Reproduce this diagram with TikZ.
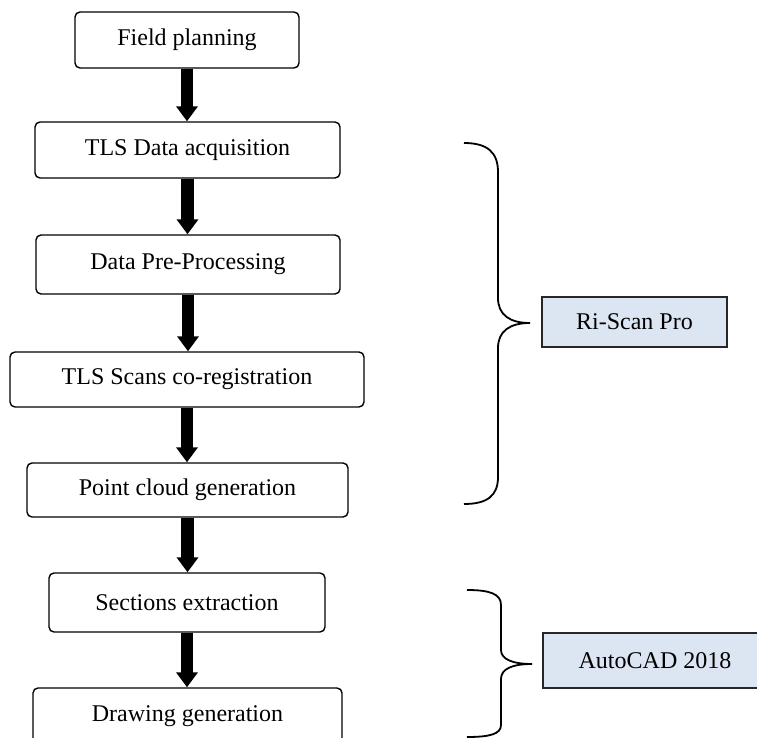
\documentclass[tikz,border=0pt]{standalone}
\usepackage{fontspec}
\setmainfont{Liberation Serif}
\usetikzlibrary{arrows.meta}
\definecolor{toolblue}{HTML}{DCE6F2}

\begin{document}
\begin{tikzpicture}[x=.5pt,y=-.5pt,
	stagebox/.style={draw, rounded corners=2.5pt, line width=.7pt, inner sep=0pt, font=\fontsize{12}{14}\selectfont},
	toolbox/.style={draw=black!85, fill=toolblue, line width=.75pt, inner sep=0pt, font=\fontsize{12}{14}\selectfont},
	fatarrow/.style={line width=6.3pt, -{Triangle[width=10.5pt,length=7.5pt]}},
	bracket/.style={line width=.9pt}]
	\useasboundingbox (0,0) rectangle (757,738);
	
	% processing chain
	\node[stagebox, minimum width=112pt, minimum height=28pt] (plan) at (187,40) {Field planning};
	\node[stagebox, minimum width=152.5pt, minimum height=28pt] (acq) at (187.5,150) {TLS Data acquisition};
	\node[stagebox, minimum width=152pt, minimum height=29.5pt] (pre) at (188,264.5) {Data Pre-Processing};
	\node[stagebox, minimum width=177pt, minimum height=27.5pt] (reg) at (187,379.5) {TLS Scans co-registration};
	\node[stagebox, minimum width=160.5pt, minimum height=27pt] (cloud) at (187.5,490) {Point cloud generation};
	\node[stagebox, minimum width=138pt, minimum height=29.5pt] (sect) at (187,602.5) {Sections extraction};
	\node[stagebox, minimum width=154.5pt, minimum height=28pt] (drw) at (187.5,716) {Drawing generation};
	
	\draw[fatarrow] (plan.south) -- (plan.south |- acq.north);
	\draw[fatarrow] (acq.south) -- (acq.south |- pre.north);
	\draw[fatarrow] (pre.south) -- (pre.south |- reg.north);
	\draw[fatarrow] (reg.south) -- (reg.south |- cloud.north);
	\draw[fatarrow] (cloud.south) -- (cloud.south |- sect.north);
	\draw[fatarrow] (sect.south) -- (sect.south |- drw.north);
	
	% software
	\node[toolbox, minimum width=92.5pt, minimum height=25pt] (riscan) at (634.5,322) {Ri-Scan Pro};
	\node[toolbox, minimum width=112pt, minimum height=27.5pt] (acad) at (655,660.5) {AutoCAD 2018};
	
	\draw[bracket] (464,143) .. controls (487,143) and (498,152) .. (498,172)
		-- (498,298) .. controls (498,315) and (510,323) .. (530,323)
		.. controls (510,323) and (498,331) .. (498,348)
		-- (498,477) .. controls (498,496) and (487,504) .. (464,504);
	\draw[bracket] (467,590) .. controls (490,590) and (501,594) .. (501,605)
		-- (501,650) .. controls (501,659) and (512,664) .. (532,664)
		.. controls (512,664) and (501,669) .. (501,679)
		-- (501,725) .. controls (501,734) and (490,737) .. (467,737);
\end{tikzpicture}
\end{document}
